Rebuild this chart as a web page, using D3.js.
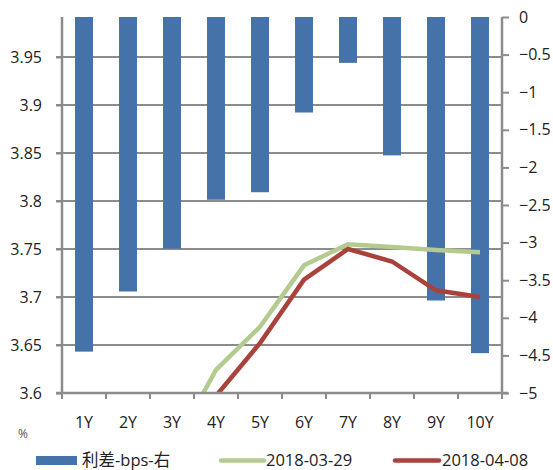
<!DOCTYPE html>
<html>
<head>
<meta charset="utf-8">
<script src="https://cdn.jsdelivr.net/npm/d3@7"></script>
<style>
  body { margin: 0; background: #fff; }
  text { font-family: "Open Sans", "Noto Sans CJK SC", sans-serif; fill: #222; }
</style>
</head>
<body>
<div id="chart"></div>
<script>
// data
var categories = ["1Y", "2Y", "3Y", "4Y", "5Y", "6Y", "7Y", "8Y", "9Y", "10Y"];
var spreadBps = [-4.45, -3.65, -3.08, -2.43, -2.33, -1.27, -0.61, -1.84, -3.77, -4.47];
var yield0329 = [3.37, 3.45, 3.541, 3.624, 3.669, 3.733, 3.755, 3.752, 3.749, 3.7465];
var yield0408 = [3.38, 3.46, 3.52, 3.597, 3.652, 3.718, 3.750, 3.737, 3.707, 3.700];
var leftTicks = [3.6, 3.65, 3.7, 3.75, 3.8, 3.85, 3.9, 3.95];
var rightTicks = [0, -0.5, -1, -1.5, -2, -2.5, -3, -3.5, -4, -4.5, -5];
var seriesNames = ["利差-bps-右", "2018-03-29", "2018-04-08"];

var svgWidth = 553;
var svgHeight = 470;

var margin = { top: 17, right: 51, bottom: 77, left: 62 };
var width = svgWidth - margin.left - margin.right;
var height = svgHeight - margin.top - margin.bottom;

var blue = "#4573a9";
var green = "#b4cb8f";
var red = "#aa423c";
var gridColor = "#8c8c8c";

var svg = d3.select("#chart")
  .append("svg")
  .attr("width", svgWidth)
  .attr("height", svgHeight);

var chartGroup = svg.append("g")
  .attr("transform", `translate(${margin.left}, ${margin.top})`);

var xScale = d3.scaleBand()
  .domain(categories)
  .range([0, width]);

// left axis: 0.05 per 48px, top edge is not a round number
var yLeft = d3.scaleLinear()
  .domain([3.6, 3.6 + height / 960])
  .range([height, 0]);

var yRight = d3.scaleLinear()
  .domain([-5, 0])
  .range([height, 0]);

// gridlines
chartGroup.append("g")
  .selectAll("line")
  .data(leftTicks.slice(1))
  .enter()
  .append("line")
  .attr("x1", -6)
  .attr("x2", width)
  .attr("y1", d => yLeft(d))
  .attr("y2", d => yLeft(d))
  .attr("stroke", gridColor)
  .attr("stroke-width", 2);

// bars hang down from 0 on the right axis
chartGroup.append("g")
  .selectAll("rect")
  .data(spreadBps)
  .enter()
  .append("rect")
  .attr("x", (d, i) => xScale(categories[i]) + xScale.bandwidth() / 2 - 9)
  .attr("width", 18)
  .attr("y", yRight(0))
  .attr("height", d => yRight(d) - yRight(0))
  .attr("fill", blue);

chartGroup.append("clipPath")
  .attr("id", "plotClip")
  .append("rect")
  .attr("x", 0)
  .attr("y", 0)
  .attr("width", width)
  .attr("height", height);

var line = d3.line()
  .x((d, i) => xScale(categories[i]) + xScale.bandwidth() / 2)
  .y(d => yLeft(d));

chartGroup.append("path")
  .datum(yield0329)
  .attr("d", line)
  .attr("fill", "none")
  .attr("stroke", green)
  .attr("stroke-width", 4.5)
  .attr("clip-path", "url(#plotClip)");

chartGroup.append("path")
  .datum(yield0408)
  .attr("d", line)
  .attr("fill", "none")
  .attr("stroke", red)
  .attr("stroke-width", 4.5)
  .attr("clip-path", "url(#plotClip)");

// axes
var leftAxis = d3.axisLeft(yLeft)
  .tickValues(leftTicks)
  .tickSize(6)
  .tickPadding(14)
  .tickFormat(d3.format(""));

var rightAxis = d3.axisRight(yRight)
  .tickValues(rightTicks)
  .tickSize(7)
  .tickPadding(10)
  .tickFormat(d3.format(""));

var bottomAxis = d3.axisBottom(xScale)
  .tickSize(0)
  .tickPadding(24);

var leftG = chartGroup.append("g")
  .call(leftAxis);

var rightG = chartGroup.append("g")
  .attr("transform", `translate(${width}, 0)`)
  .call(rightAxis);

var bottomG = chartGroup.append("g")
  .attr("transform", `translate(0, ${height})`)
  .call(bottomAxis);

// tick marks between categories
bottomG.selectAll(".sep")
  .data(d3.range(categories.length + 1))
  .enter()
  .append("line")
  .attr("x1", d => d * xScale.step())
  .attr("x2", d => d * xScale.step())
  .attr("y1", 0)
  .attr("y2", 6)
  .attr("stroke", gridColor)
  .attr("stroke-width", 2);

[leftG, rightG, bottomG].forEach(function (g) {
  g.select(".domain")
    .attr("stroke", gridColor)
    .attr("stroke-width", 2.5);
  g.selectAll(".tick line")
    .attr("stroke", gridColor)
    .attr("stroke-width", 2);
  g.selectAll("text")
    .style("font-size", "16px")
    .style("fill", "#222");
});
leftG.select(".domain").attr("d", `M0,0V${height}`);
rightG.select(".domain").attr("d", `M0,0V${height}`);
bottomG.select(".domain").attr("d", `M-6,0H${width + 6}`);

svg.append("text")
  .attr("x", 18)
  .attr("y", 438)
  .style("font-size", "12px")
  .style("fill", "#555")
  .text("%");

// legend
var legend = svg.append("g");

legend.append("rect")
  .attr("x", 36)
  .attr("y", 456)
  .attr("width", 41)
  .attr("height", 9)
  .attr("fill", blue);

legend.append("line")
  .attr("x1", 221)
  .attr("x2", 264)
  .attr("y1", 460.5)
  .attr("y2", 460.5)
  .attr("stroke", green)
  .attr("stroke-width", 4.5)
  .attr("stroke-linecap", "round");

legend.append("line")
  .attr("x1", 395)
  .attr("x2", 439)
  .attr("y1", 460.5)
  .attr("y2", 460.5)
  .attr("stroke", red)
  .attr("stroke-width", 4.5)
  .attr("stroke-linecap", "round");

legend.selectAll("text")
  .data(seriesNames)
  .enter()
  .append("text")
  .attr("x", (d, i) => [82, 266, 442][i])
  .attr("y", 460)
  .attr("dy", "0.35em")
  .style("font-size", "16.5px")
  .style("fill", "#222")
  .text(d => d);
</script>
</body>
</html>
